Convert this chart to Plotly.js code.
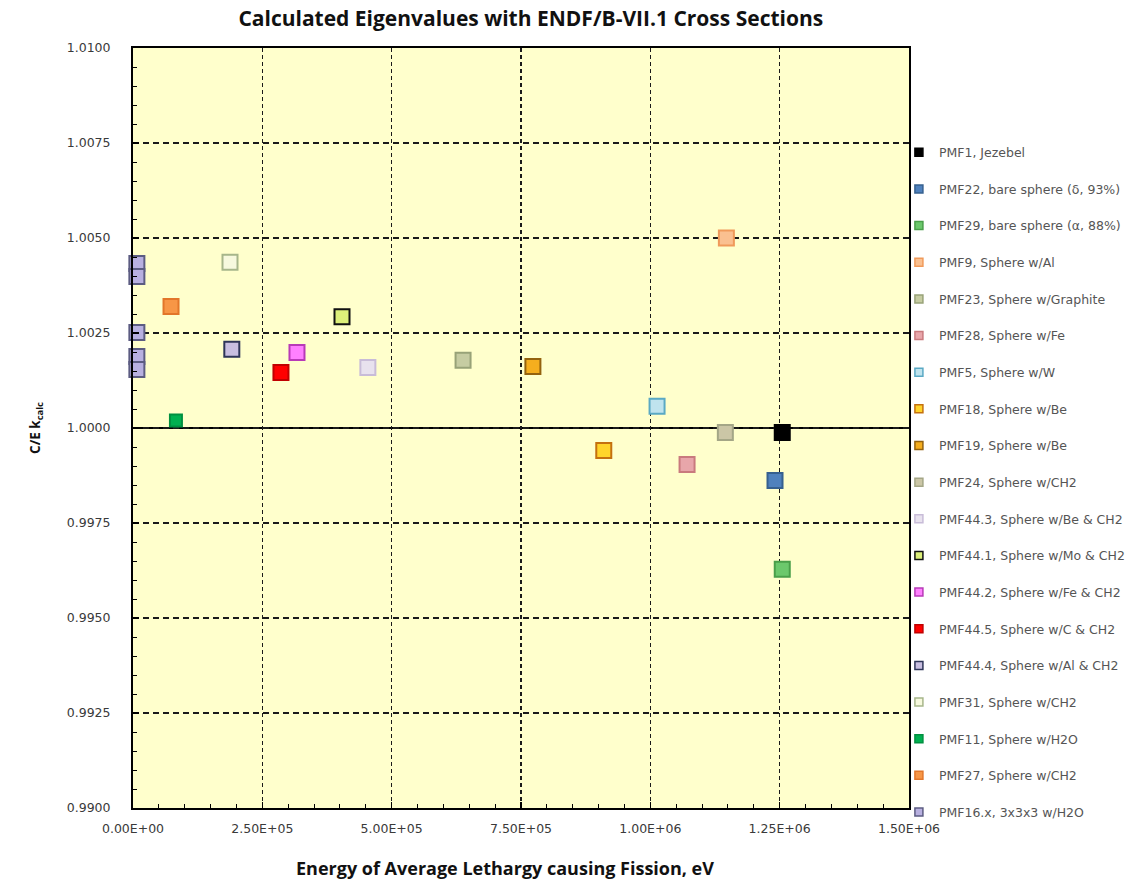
<!DOCTYPE html>
<html>
<head>
<meta charset="utf-8">
<script src="https://cdn.plot.ly/plotly-3.0.1.min.js"></script>
<style>
  html, body { margin: 0; padding: 0; background: #ffffff; }
  #chart { width: 1144px; height: 888px; }
</style>
</head>
<body>
<div id="chart"></div>
<script>
// Benchmark cases: energy of average lethargy causing fission (eV) and C/E k_calc
const caseNames = [
  'PMF1, Jezebel',
  'PMF22, bare sphere (δ, 93%)',
  'PMF29, bare sphere (α, 88%)',
  'PMF9, Sphere w/Al',
  'PMF23, Sphere w/Graphite',
  'PMF28, Sphere w/Fe',
  'PMF5, Sphere w/W',
  'PMF18, Sphere w/Be',
  'PMF19, Sphere w/Be',
  'PMF24, Sphere w/CH2',
  'PMF44.3, Sphere w/Be & CH2',
  'PMF44.1, Sphere w/Mo & CH2',
  'PMF44.2, Sphere w/Fe & CH2',
  'PMF44.5, Sphere w/C & CH2',
  'PMF44.4, Sphere w/Al & CH2',
  'PMF31, Sphere w/CH2',
  'PMF11, Sphere w/H2O',
  'PMF27, Sphere w/CH2',
  'PMF16.x, 3x3x3 w/H2O'
];

const energyEV = [
  [1.255e6],
  [1.241e6],
  [1.255e6],
  [1.147e6],
  [6.38e5],
  [1.071e6],
  [1.013e6],
  [9.10e5],
  [7.73e5],
  [1.145e6],
  [4.54e5],
  [4.04e5],
  [3.17e5],
  [2.86e5],
  [1.91e5],
  [1.875e5],
  [8.3e4],
  [7.35e4],
  [7.5e3, 7.5e3, 7.5e3, 7.5e3, 7.5e3]
];

const keffCE = [
  [0.99988],
  [0.99862],
  [0.99628],
  [1.00500],
  [1.00178],
  [0.99904],
  [1.00057],
  [0.99941],
  [1.00162],
  [0.99988],
  [1.00159],
  [1.00293],
  [1.00199],
  [1.00146],
  [1.00207],
  [1.00436],
  [1.00020],
  [1.00320],
  [1.00433, 1.00399, 1.00251, 1.00188, 1.00154]
];

const fillColors = [
  '#000000', '#4F81BD', '#6CC86C', '#FAC090', '#C6CCA2', '#E8A6AA',
  '#BFE3EE', '#FFD42A', '#F5AE1E', '#CBC6A6', '#E8E2EE', '#DDF07A',
  '#FF80FF', '#FF0000', '#C8BEE0', '#F7F9DE', '#00B050', '#F79646', '#B8B0E0'
];
const lineColors = [
  '#000000', '#36608F', '#4A9F4A', '#F09A5A', '#98A278', '#C97A7E',
  '#5AA9C4', '#C4700E', '#94620E', '#A4A686', '#C8BCD8', '#111111',
  '#B83AB8', '#C00000', '#2E3558', '#A7B68A', '#009040', '#E2762A', '#5C5C82'
];
const markerSizes = [15, 15, 15, 15, 15, 15, 15, 15, 15, 15, 15, 15, 15, 15, 15, 15, 12, 15, 15];

const xTickVals = [0, 2.5e5, 5.0e5, 7.5e5, 1.0e6, 1.25e6, 1.5e6];
const xTickText = ['0.00E+00', '2.50E+05', '5.00E+05', '7.50E+05', '1.00E+06', '1.25E+06', '1.50E+06'];
const yTickVals = [0.9900, 0.9925, 0.9950, 0.9975, 1.0000, 1.0025, 1.0050, 1.0075, 1.0100];

const unityKeff = 1.0;

const traces = [];
// Data markers
caseNames.forEach((name, i) => {
  traces.push({
    type: 'scatter', mode: 'markers', name: name,
    x: energyEV[i], y: keffCE[i],
    showlegend: false, cliponaxis: false,
    marker: { symbol: 'square', size: markerSizes[i], color: fillColors[i],
              line: { color: lineColors[i], width: 2 } },
    hoverinfo: 'name+x+y'
  });
});
// Legend entries with small swatches, one group each so the group gap spaces them
caseNames.forEach((name, i) => {
  traces.push({
    type: 'scatter', mode: 'markers', name: name,
    x: [null], y: [null], legendgroup: 'g' + i, showlegend: true,
    marker: { symbol: 'square', size: 8, color: fillColors[i],
              line: { color: lineColors[i], width: 1.5 } }
  });
});

const tickFont = { family: 'DejaVu Sans, sans-serif', size: 12.5, color: '#3a3a3a' };
const boldFont = (size) => ({ family: 'Open Sans, sans-serif', size: size, color: '#111111', weight: 'bold' });

const layout = {
  width: 1144, height: 888,
  paper_bgcolor: '#ffffff', plot_bgcolor: '#FFFFCC',
  margin: { l: 133, r: 235, t: 48, b: 80, pad: 0 },
  title: {
    text: 'Calculated Eigenvalues with ENDF/B-VII.1 Cross Sections',
    font: boldFont(21),
    x: 0.464, xanchor: 'center', y: 0.979, yanchor: 'middle'
  },
  xaxis: {
    range: [0, 1.5e6], tickvals: xTickVals, ticktext: xTickText,
    tickfont: tickFont, ticks: 'inside', ticklen: 6, tickwidth: 1.5, tickcolor: '#000',
    minor: { dtick: 5e4, ticks: 'inside', ticklen: 4, tickwidth: 1, tickcolor: '#000', showgrid: false },
    showline: true, linecolor: '#000000', linewidth: 2, mirror: true,
    showgrid: true, gridcolor: '#1a1a1a', gridwidth: 1.5, griddash: '4px,3px',
    zeroline: false, ticklabelstandoff: 8
  },
  yaxis: {
    range: [0.99, 1.01], tickvals: yTickVals, tickformat: '.4f',
    tickfont: tickFont, ticks: 'inside', ticklen: 6, tickwidth: 1.5, tickcolor: '#000',
    minor: { dtick: 0.0005, ticks: 'inside', ticklen: 4, tickwidth: 1, tickcolor: '#000', showgrid: false },
    showline: true, linecolor: '#000000', linewidth: 2, mirror: true,
    showgrid: true, gridcolor: '#1a1a1a', gridwidth: 1.5, griddash: '6px,4px',
    zeroline: false, ticklabelstandoff: 18,
    title: { text: 'C/E k<sub>calc</sub>', font: boldFont(13.5), standoff: 23 }
  },
  annotations: [{
    text: 'Energy of Average Lethargy causing Fission, eV',
    xref: 'paper', yref: 'paper', x: 0.479, y: -0.079,
    xanchor: 'center', yanchor: 'middle', showarrow: false,
    font: boldFont(18)
  }],
  shapes: [{
    type: 'line', xref: 'paper', x0: 0, x1: 1, yref: 'y', y0: unityKeff, y1: unityKeff,
    line: { color: '#000000', width: 2.2 }, layer: 'below'
  }],
  legend: {
    x: 0.987, xanchor: 'left', y: 0.882, yanchor: 'top',
    bgcolor: 'rgba(255,255,255,0)', borderwidth: 0,
    font: { family: 'DejaVu Sans, sans-serif', size: 12.5, color: '#555555' },
    tracegroupgap: 17.4, itemsizing: 'trace', traceorder: 'grouped'
  },
  showlegend: true
};

Plotly.newPlot('chart', traces, layout, { displayModeBar: false, staticPlot: true });
</script>
</body>
</html>
